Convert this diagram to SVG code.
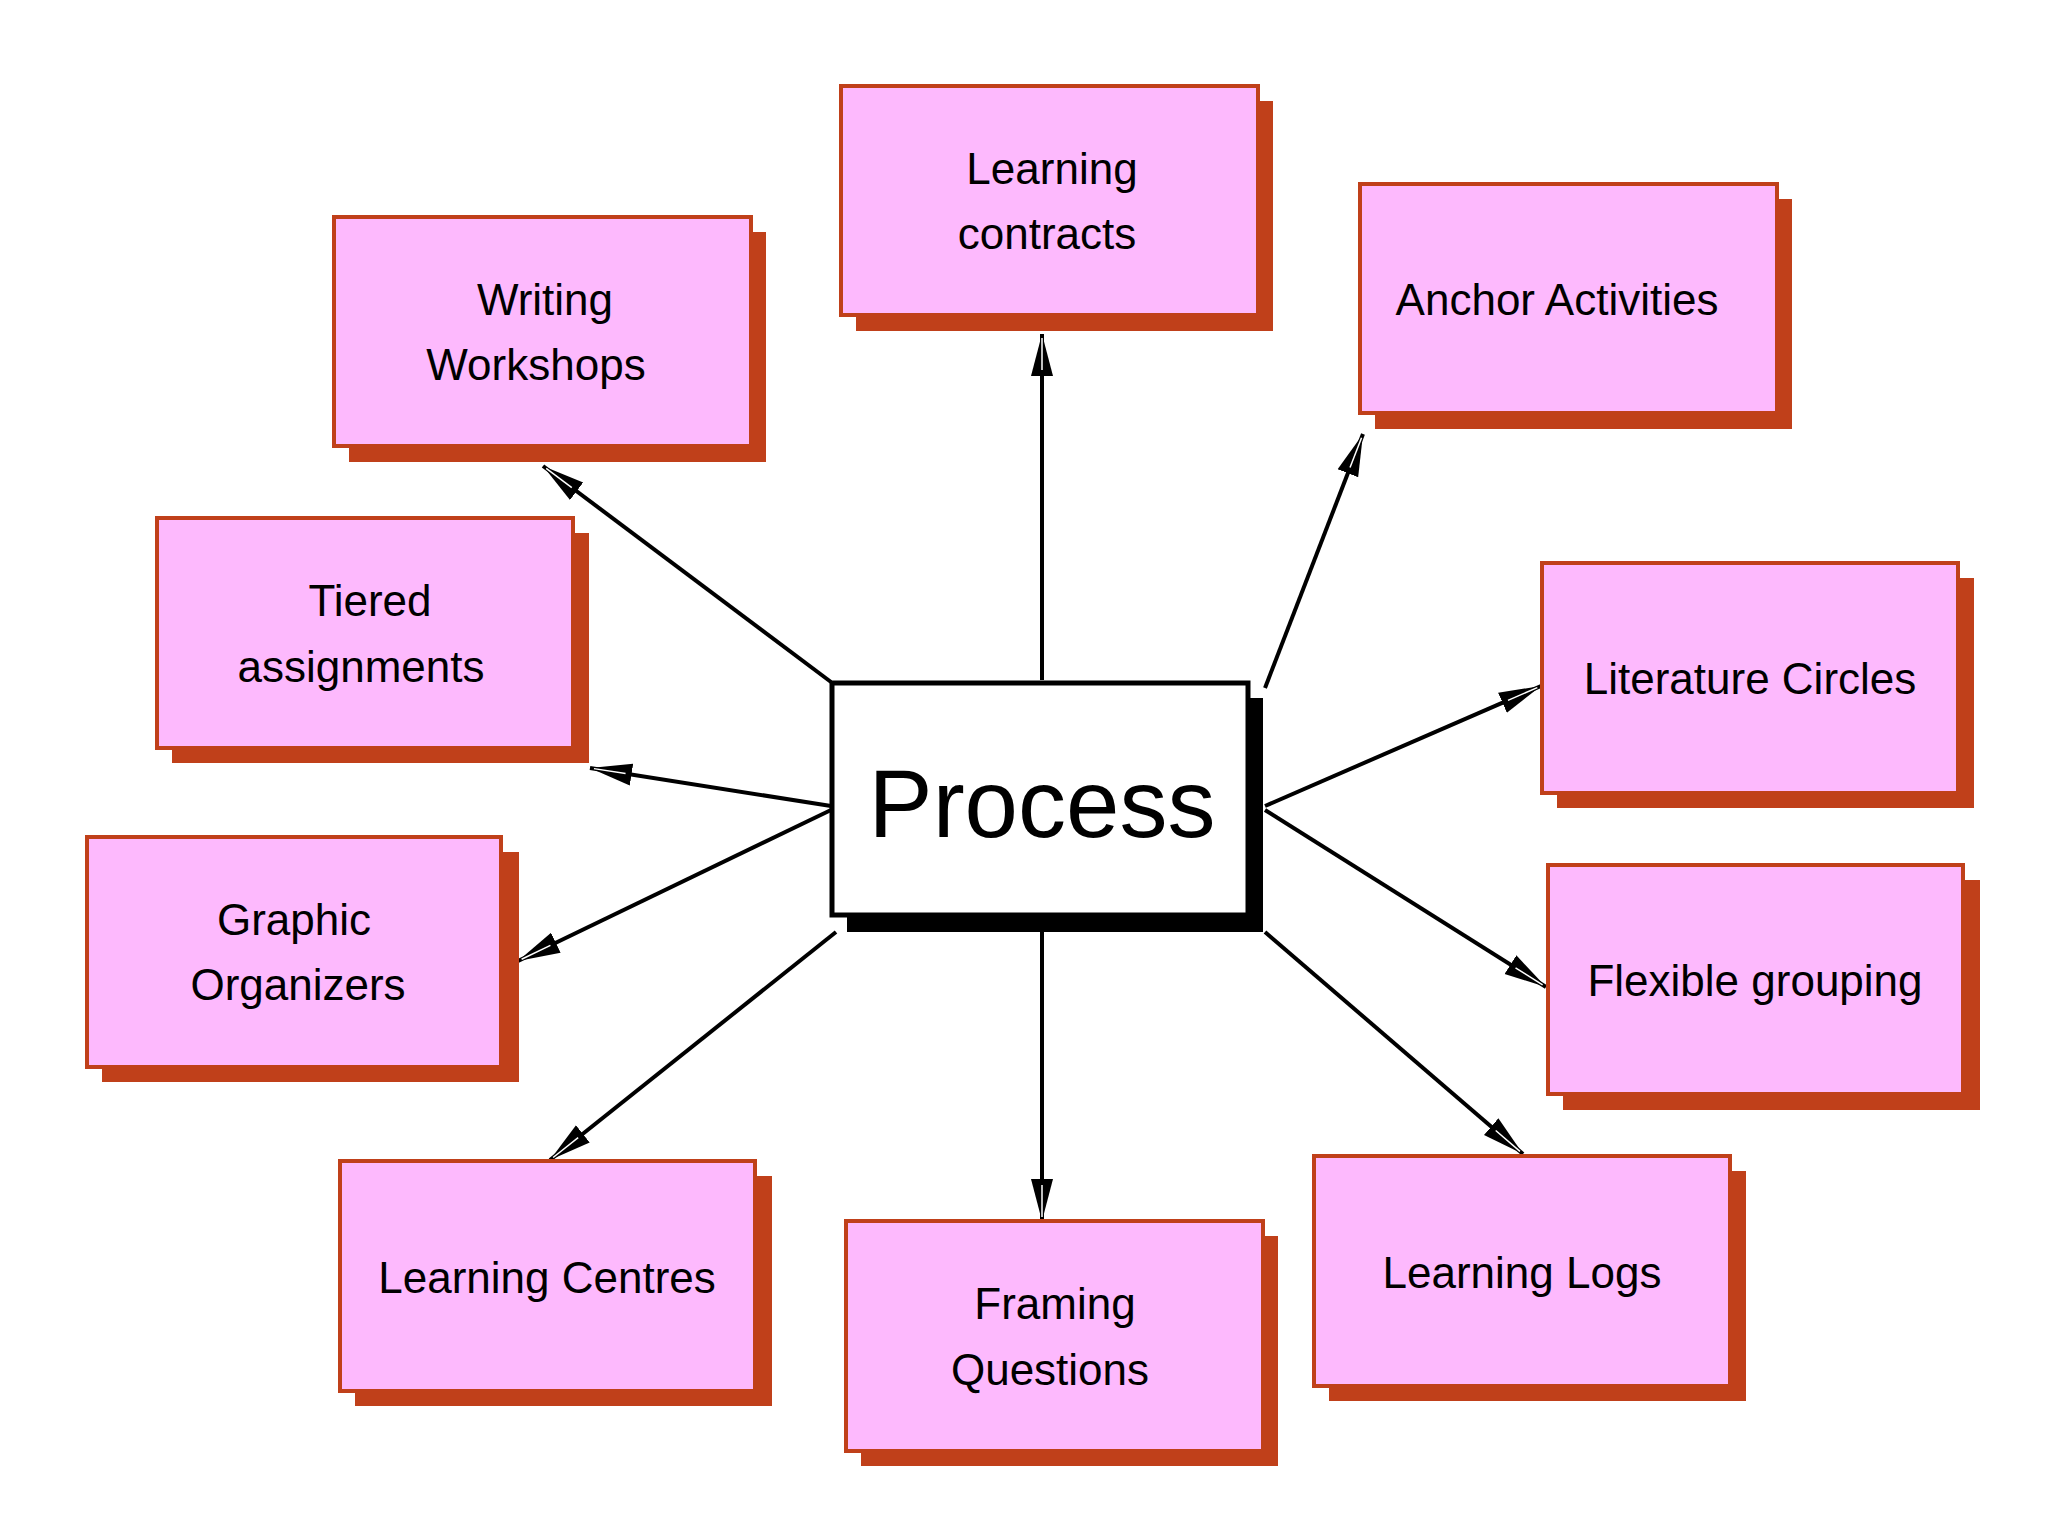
<svg xmlns="http://www.w3.org/2000/svg" width="2048" height="1536" viewBox="0 0 2048 1536">
<style>
.b{fill:#FDB9FD;stroke:#C0401A;stroke-width:4}
.s{fill:#C0401A}
.t{font-family:"Liberation Sans",Arial,sans-serif;font-size:44px;text-anchor:middle;fill:#000}
.c line{stroke:#000;stroke-width:4;marker-end:url(#a)}
</style>
<defs>
<marker id="a" markerUnits="userSpaceOnUse" markerWidth="44" markerHeight="26" refX="42" refY="13" orient="auto">
<path d="M0,2 L42,13 L0,24 Z" fill="#000"/>
<path d="M6,13 L38,13" stroke="#fff" stroke-width="1.5"/>
</marker>
</defs>
<rect width="2048" height="1536" fill="#fff"/>
<g id="connectors" class="c">
<line x1="1042" y1="680" x2="1042" y2="334"/>
<line x1="831" y1="682" x2="543" y2="466"/>
<line x1="1265" y1="688" x2="1363" y2="434"/>
<line x1="831" y1="806" x2="590" y2="768"/>
<line x1="831" y1="810" x2="518" y2="961"/>
<line x1="1265" y1="806" x2="1541" y2="686"/>
<line x1="1265" y1="810" x2="1546" y2="987"/>
<line x1="836" y1="932" x2="550" y2="1160"/>
<line x1="1042" y1="932" x2="1042" y2="1221"/>
<line x1="1265" y1="932" x2="1523" y2="1154"/>
</g>
<g id="process">
<rect x="847" y="698" width="416" height="234" fill="#000"/>
<rect x="832" y="683" width="416" height="232" fill="#fff" stroke="#000" stroke-width="5"/>
<text x="1042" y="837" font-family="Liberation Sans,Arial,sans-serif" font-size="96" text-anchor="middle">Process</text>
</g>
<g id="contracts"><rect class="s" x="856" y="101" width="417" height="230"/><rect class="b" x="841" y="86" width="417" height="229"/><text class="t" x="1052" y="184">Learning</text><text class="t" x="1047" y="249">contracts</text></g>
<g id="writing"><rect class="s" x="349" y="232" width="417" height="230"/><rect class="b" x="334" y="217" width="417" height="229"/><text class="t" x="545" y="315">Writing</text><text class="t" x="536" y="380">Workshops</text></g>
<g id="anchor"><rect class="s" x="1375" y="199" width="417" height="230"/><rect class="b" x="1360" y="184" width="417" height="229"/><text class="t" x="1557" y="315">Anchor Activities</text></g>
<g id="tiered"><rect class="s" x="172" y="533" width="417" height="230"/><rect class="b" x="157" y="518" width="416" height="230"/><text class="t" x="370" y="616">Tiered</text><text class="t" x="361" y="682">assignments</text></g>
<g id="literature"><rect class="s" x="1557" y="578" width="417" height="230"/><rect class="b" x="1542" y="563" width="416" height="230"/><text class="t" x="1750" y="694">Literature Circles</text></g>
<g id="graphic"><rect class="s" x="102" y="852" width="417" height="230"/><rect class="b" x="87" y="837" width="414" height="230"/><text class="t" x="294" y="935">Graphic</text><text class="t" x="298" y="1000">Organizers</text></g>
<g id="flexible"><rect class="s" x="1563" y="880" width="417" height="230"/><rect class="b" x="1548" y="865" width="415" height="229"/><text class="t" x="1755" y="996">Flexible grouping</text></g>
<g id="centres"><rect class="s" x="355" y="1176" width="417" height="230"/><rect class="b" x="340" y="1161" width="415" height="230"/><text class="t" x="547" y="1293">Learning Centres</text></g>
<g id="framing"><rect class="s" x="861" y="1236" width="417" height="230"/><rect class="b" x="846" y="1221" width="417" height="230"/><text class="t" x="1055" y="1319">Framing</text><text class="t" x="1050" y="1385">Questions</text></g>
<g id="logs"><rect class="s" x="1329" y="1171" width="417" height="230"/><rect class="b" x="1314" y="1156" width="416" height="230"/><text class="t" x="1522" y="1288">Learning Logs</text></g>
</svg>
